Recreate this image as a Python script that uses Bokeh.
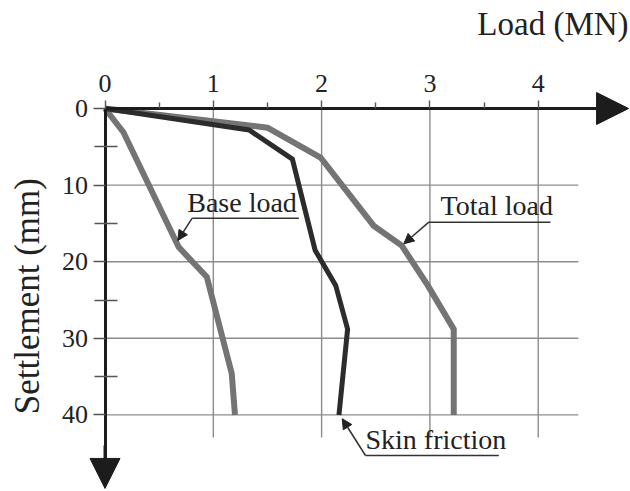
from bokeh.plotting import figure
from bokeh.models import Range1d, FixedTicker, Arrow, NormalHead, Label
from bokeh.embed import file_html
from bokeh.resources import INLINE

# ---- data ----
load_ticks = [0, 1, 2, 3, 4]
load_minor = [0.5, 1.5, 2.5, 3.5]
settle_ticks = [0, 10, 20, 30, 40]
settle_minor = [5, 15, 25, 35]

base_load = [0, 0.17, 0.68, 0.94, 1.17, 1.20]
base_settle = [0, 3.1, 18.1, 22.0, 34.6, 40]

skin_load = [0, 1.33, 1.73, 1.94, 2.13, 2.24, 2.16]
skin_settle = [0, 2.8, 6.6, 18.5, 23.1, 28.8, 40]

total_load = [0, 1.50, 1.99, 2.48, 2.74, 2.98, 3.22, 3.22]
total_settle = [0, 2.5, 6.4, 15.3, 17.9, 23.1, 28.8, 40]

FONT = "Liberation Serif"
AX = "#1c1c1c"
GRID = "#8c8c8c"
GRAY = "#747474"
DARK = "#2c2c2c"

p = figure(width=630, height=491,
           x_range=Range1d(-0.965, 4.852), y_range=Range1d(50.0, -14.10),
           x_axis_location="above", y_axis_location="left",
           output_backend="svg", toolbar_location=None,
           min_border_left=0, min_border_right=0, min_border_top=0, min_border_bottom=0)
p.outline_line_color = None
p.background_fill_color = "white"
p.border_fill_color = "white"
p.xgrid.visible = False
p.ygrid.visible = False

# grid lines (limited extent like the reference)
p.segment(x0=load_ticks[1:], y0=[0] * 4, x1=load_ticks[1:], y1=[42.95] * 4,
          line_color=GRID, line_width=1.4)
p.segment(x0=[0] * 4, y0=settle_ticks[1:], x1=[4.37] * 4, y1=settle_ticks[1:],
          line_color=GRID, line_width=1.4)

# curves
p.line(base_load, base_settle, line_color=GRAY, line_width=6, line_join="miter")
p.line(total_load, total_settle, line_color=GRAY, line_width=6, line_join="miter")
p.line(skin_load, skin_settle, line_color=DARK, line_width=5, line_join="miter")

# axes crossing at the origin
xa = p.xaxis[0]
xa.fixed_location = 0
xa.bounds = (0, 4.65)
xa.ticker = FixedTicker(ticks=load_ticks, minor_ticks=load_minor)
xa.axis_line_color = AX
xa.axis_line_width = 3
xa.major_tick_out = 8
xa.major_tick_in = 0
xa.minor_tick_out = 6
xa.minor_tick_in = 0
xa.major_tick_line_color = "#555555"
xa.minor_tick_line_color = "#555555"
xa.major_tick_line_width = 1.4
xa.minor_tick_line_width = 1.4
xa.major_label_standoff = 9
xa.major_label_text_font = FONT
xa.major_label_text_font_size = "26px"
xa.major_label_text_color = "#222222"

ya = p.yaxis[0]
ya.fixed_location = 0
ya.bounds = (0, 47.3)
ya.ticker = FixedTicker(ticks=settle_ticks, minor_ticks=settle_minor)
ya.axis_line_color = AX
ya.axis_line_width = 3
ya.major_tick_out = 12
ya.major_tick_in = 0
ya.minor_tick_out = 11
ya.minor_tick_in = 12
ya.major_tick_line_color = "#555555"
ya.minor_tick_line_color = "#555555"
ya.major_tick_line_width = 1.4
ya.minor_tick_line_width = 1.4
ya.major_label_standoff = 5
ya.major_label_text_font = FONT
ya.major_label_text_font_size = "26px"
ya.major_label_text_color = "#222222"

# arrow heads on the axes
p.add_layout(Arrow(x_start=4.4, y_start=0, x_end=4.834, y_end=0,
                   line_color=AX, line_width=3,
                   end=NormalHead(size=32, fill_color=AX, line_color=AX)))
p.add_layout(Arrow(x_start=0, y_start=44, x_end=0, y_end=49.6,
                   line_color=AX, line_width=3,
                   end=NormalHead(size=30, fill_color=AX, line_color=AX)))

# axis titles
p.add_layout(Label(x=4.834, y=-11.03, text="Load (MN)", text_align="right",
                   text_baseline="alphabetic", text_font=FONT,
                   text_font_size="33px", text_color="#222222"))
p.add_layout(Label(x=-0.716, y=24.5, text="Settlement (mm)", angle=1.5708,
                   text_align="center", text_baseline="middle", text_font=FONT,
                   text_font_size="35px", text_color="#222222"))

# callouts
def callout(text, tx, ty, ux0, ux1, uy, ax, ay):
    p.add_layout(Label(x=tx, y=ty, text=text, text_align="left",
                       text_baseline="alphabetic", text_font=FONT,
                       text_font_size="28px", text_color="#222222"))
    p.line([ux0, ux1], [uy, uy], line_color="#333333", line_width=1.5)
    p.add_layout(Arrow(x_start=ux0, y_start=uy, x_end=ax, y_end=ay,
                       line_color="#333333", line_width=1.5,
                       end=NormalHead(size=10, fill_color="#222222",
                                      line_color="#222222")))

callout("Base load", 0.759, 12.27, 0.805, 1.79, 14.32, 0.672, 17.23)
callout("Total load", 3.098, 12.66, 2.99, 4.113, 14.84, 2.759, 17.66)
callout("Skin friction", 2.405, 43.25, 2.405, 3.636, 45.3, 2.19, 40.5)

open("out.html", "w").write(file_html(p, INLINE))
